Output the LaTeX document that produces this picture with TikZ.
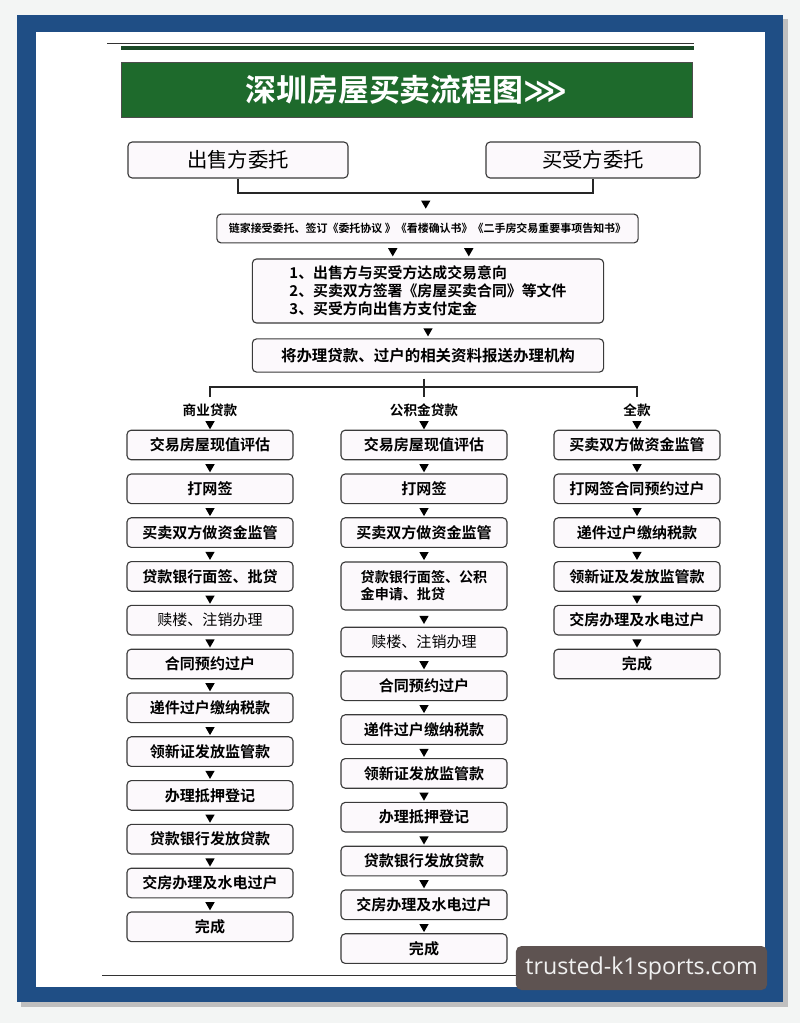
\documentclass[tikz,border=0pt]{standalone}
\usepackage{fontspec}
\setmainfont{Noto Sans CJK SC}[BoldFont={Noto Sans CJK SC Bold}]
\newfontfamily\wmfont{Open Sans}
\newfontfamily\symfont{DejaVu Sans}
\usepackage{tikz}
\usetikzlibrary{
  positioning,
  shapes.geometric,
  calc,
}
\definecolor{frameblue}{HTML}{1F4E85}
\definecolor{titlegreen}{HTML}{1E6A2C}
\definecolor{linegreen}{HTML}{1B4A27}
\definecolor{pagebg}{HTML}{F3F5F4}
\definecolor{boxbg}{HTML}{FCF9FC}
\definecolor{boxline}{HTML}{3A3A3A}
\definecolor{markbg}{HTML}{5E5351}

\tikzset{
  stepbox/.style={draw=boxline, fill=boxbg, line width=0.8pt, rounded corners=3pt,
    minimum width=4.15cm, minimum height=0.74cm, inner sep=1pt,
    font=\bfseries\fontsize{10.7}{12.5}\selectfont},
  topbox/.style={draw=boxline, fill=boxbg, line width=0.8pt, rounded corners=3pt, inner sep=1pt},
  tri/.style={regular polygon, regular polygon sides=3, shape border rotate=180,
    fill=black, inner sep=0pt, minimum size=0.27cm},
  lab/.style={font=\bfseries\fontsize{9.7}{11}\selectfont, inner sep=1pt},
  line/.style={draw=black!85, line width=1.2pt},
}

\begin{document}
\begin{tikzpicture}[x=0.025cm, y=-0.025cm]
  \useasboundingbox (0,0) rectangle (800,1023);
  \fill[pagebg] (0,0) rectangle (800,1023);
  \fill[black!25] (21,19) rectangle (788,1007);
  \fill[frameblue] (17,15) rectangle (783,1002);
  \fill[white] (36,32) rectangle (765,987);
  \draw[black!80, line width=0.7pt] (107,43) -- (694,43);
  \draw[linegreen, line width=2.8pt] (121,48) -- (694,48);
  \draw[black!80, line width=0.7pt] (102,975) -- (700,975);

  \node[draw=black!70, fill=titlegreen, minimum width=14.28cm, minimum height=1.38cm,
    text=white, font=\bfseries\fontsize{22}{24}\selectfont] (title) at (406.5,89.5)
    {深圳房屋买卖流程图{\symfont ⋙}};

  \node[topbox, minimum width=5.5cm, minimum height=0.9cm, font=\fontsize{14.5}{16}\selectfont] (sell) at (238,160) {出售方委托};
  \node[topbox, minimum width=5.35cm, minimum height=0.9cm, font=\fontsize{14.5}{16}\selectfont] (buy) at (593,160) {买受方委托};
  \node[topbox, minimum width=10.53cm, minimum height=0.72cm, font=\bfseries\fontsize{7.8}{9}\selectfont] (agent) at (427.5,228.5)
    {链家接受委托、签订《委托协议 》《看楼确认书》《二手房交易重要事项告知书》};
  \node[topbox, minimum width=8.78cm, minimum height=1.6cm, align=left, font=\bfseries\fontsize{10.6}{12.8}\selectfont] (deal) at (428,291)
    {1、出售方与买受方达成交易意向\\2、买卖双方签署《房屋买卖合同》等文件\\3、买受方向出售方支付定金};
  \node[topbox, minimum width=8.78cm, minimum height=0.83cm, font=\bfseries\fontsize{11}{13}\selectfont] (docs) at (428,355.5)
    {将办理贷款、过户的相关资料报送办理机构};

  \coordinate (join) at (424,193);
  \draw[line] (sell.south) |- (join) -| (buy.south);
  \path (join) -- node[tri]{} (agent.north);
  \path ([xshift=-0.875cm]agent.south) -- node[tri]{} ([xshift=-0.875cm]deal.north);
  \path ([xshift=1.025cm]agent.south) -- node[tri]{} ([xshift=1.025cm]deal.north);
  \path (deal.south) -- node[tri]{} (docs.north);

  \coordinate (s1) at (210,397);
  \coordinate (s2) at (424,397);
  \coordinate (s3) at (637,397);
  \draw[line] (s1) -- ++(0,-10) -| (s3);
  \draw[line] (s2 |- docs.south) ++(0,6) -- (s2);

  \node[lab] (biz) at (210,410) {商业贷款};
  \node[lab] (fund) at (424,410) {公积金贷款};
  \node[lab] (cash) at (637,410) {全款};

  \foreach \txt [count=\i] in {交易房屋现值评估,打网签,买卖双方做资金监管,贷款银行面签、批贷,{\mdseries 赎楼、注销办理},合同预约过户,递件过户缴纳税款,领新证发放监管款,办理抵押登记,贷款银行发放贷款,交房办理及水电过户,完成}
    \node[stepbox] (a\i) at (210,{401.2+43.8*\i}) {\txt};

  \foreach \txt [count=\i] in {交易房屋现值评估,打网签,买卖双方做资金监管}
    \node[stepbox] (b\i) at (424,{401.2+43.8*\i}) {\txt};
  \node[stepbox, minimum height=1.2cm, align=left, font=\bfseries\fontsize{10}{12.2}\selectfont] (b4) at (424,586)
    {贷款银行面签、公积\\金申请、批贷};
  \foreach \txt [count=\i from 5] in {{\mdseries 赎楼、注销办理},合同预约过户,递件过户缴纳税款,领新证发放监管款,办理抵押登记,贷款银行发放贷款,交房办理及水电过户,完成}
    \node[stepbox] (b\i) at (424,{423+43.8*\i}) {\txt};

  \foreach \txt [count=\i] in {买卖双方做资金监管,打网签合同预约过户,递件过户缴纳税款,领新证及发放监管款,交房办理及水电过户,完成}
    \node[stepbox] (c\i) at (637,{401.2+43.8*\i}) {\txt};

  \path (biz.south) -- node[tri]{} (a1.north);
  \path (fund.south) -- node[tri]{} (b1.north);
  \path (cash.south) -- node[tri]{} (c1.north);
  \foreach \i [remember=\i as \j (initially 1)] in {2,...,12}
    \path (a\j.south) -- node[tri]{} (a\i.north);
  \foreach \i [remember=\i as \j (initially 1)] in {2,...,12}
    \path (b\j.south) -- node[tri]{} (b\i.north);
  \foreach \i [remember=\i as \j (initially 1)] in {2,...,6}
    \path (c\j.south) -- node[tri]{} (c\i.north);

  \node[fill=markbg, rounded corners=4pt, minimum width=6.28cm, minimum height=1.1cm,
    text=white!94!black, font=\wmfont\fontsize{16.5}{19}\selectfont] (mark) at (641.5,968) {trusted-k1sports.com};
\end{tikzpicture}
\end{document}
